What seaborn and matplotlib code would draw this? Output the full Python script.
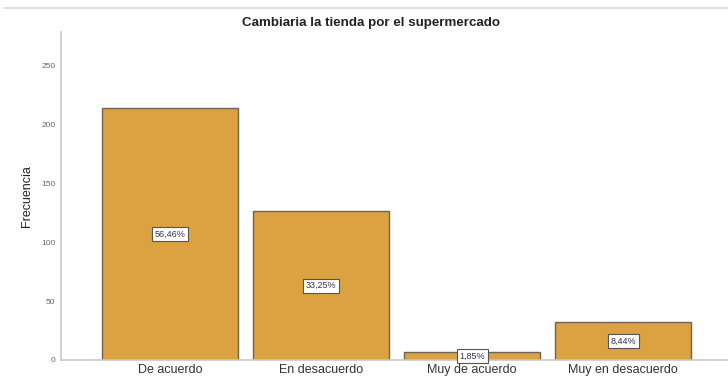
import matplotlib
matplotlib.use("Agg")
import matplotlib.pyplot as plt
from matplotlib.lines import Line2D
import seaborn as sns
import pandas as pd

# datos
categorias = ["De acuerdo", "En desacuerdo", "Muy de acuerdo", "Muy en desacuerdo"]
frecuencias = [214, 126, 7, 32]
porcentajes = ["56,46%", "33,25%", "1,85%", "8,44%"]
yticks = [0, 50, 100, 150, 200, 250]

df = pd.DataFrame({"categoria": categorias, "frecuencia": frecuencias})

sns.set_style("white")
plt.rcParams["font.family"] = ["Liberation Sans", "DejaVu Sans"]

fig = plt.figure(figsize=(7.28, 3.82), dpi=100)
ax = fig.add_axes([0.084, 0.0576, 0.915, 0.858])

sns.barplot(data=df, x="categoria", y="frecuencia", color="#DCA140",
            width=0.9, edgecolor="#6E6450", linewidth=1.0, saturation=1, ax=ax)

# etiquetas de porcentaje en el centro de cada barra
for i, (v, p) in enumerate(zip(frecuencias, porcentajes)):
    ax.text(i, v / 2, p, ha="center", va="center", fontsize=6.5, color="#333355",
            bbox=dict(boxstyle="square,pad=0.3", facecolor="white",
                      edgecolor="#555555", linewidth=0.8))

ax.set_xlim(-0.722, 3.69)
ax.set_ylim(0, 278)
ax.set_yticks(yticks)
ax.tick_params(axis="y", labelsize=6, labelcolor="#666666", length=0, pad=4)
ax.tick_params(axis="x", labelsize=9, labelcolor="#333333", length=0, pad=3)
ax.set_xlabel("")
ax.set_ylabel("Frecuencia", fontsize=9, color="#222222", labelpad=6)

for s in ["top", "right"]:
    ax.spines[s].set_visible(False)
for s in ["left", "bottom"]:
    ax.spines[s].set_color("#c8c8c8")
    ax.spines[s].set_linewidth(1.2)

fig.text(0.51, 0.94, "Cambiaria la tienda por el supermercado", ha="center",
         va="center", fontsize=9.6, fontweight="bold", color="#222222")

# linea gris superior
fig.add_artist(Line2D([0.005, 1.0], [0.979, 0.979], transform=fig.transFigure,
                      color="#dddddd", linewidth=1.2))

fig.savefig("out.png", dpi=100)
